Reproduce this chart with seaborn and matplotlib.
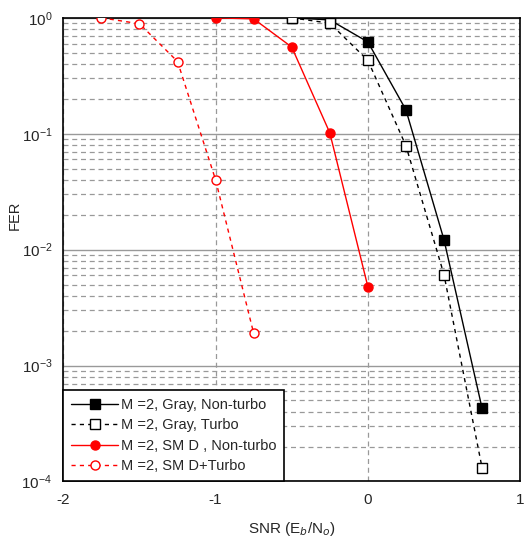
import numpy as np
import pandas as pd
import seaborn as sns
import matplotlib.pyplot as plt
from matplotlib.ticker import LogLocator, NullFormatter

sns.set_style("white")
plt.rcParams['font.family'] = ['Liberation Sans', 'DejaVu Sans']

# SNR points (Eb/No) and FER values
snr_gray = [-0.5, -0.25, 0.0, 0.25, 0.5, 0.75]
fer_gray_nonturbo = [1.0, 0.96, 0.62, 0.161, 0.0122, 4.3e-4]
fer_gray_turbo = [1.0, 0.9, 0.43, 0.079, 0.0061, 1.32e-4]

snr_smd = [-1.0, -0.75, -0.5, -0.25, 0.0]
fer_smd_nonturbo = [1.0, 0.98, 0.56, 0.102, 0.0048]

snr_smd_turbo = [-1.75, -1.5, -1.25, -1.0, -0.75]
fer_smd_turbo = [1.0, 0.89, 0.42, 0.040, 0.0019]

labels = ["M =2, Gray, Non-turbo", "M =2, Gray, Turbo",
          "M =2, SM D , Non-turbo", "M =2, SM D+Turbo"]

fig, ax = plt.subplots(figsize=(5.28, 5.41), dpi=100)

series = [
    (snr_gray, fer_gray_nonturbo, labels[0], "black", "-", "s", "black"),
    (snr_gray, fer_gray_turbo, labels[1], "black", (0, (3, 3)), "s", "white"),
    (snr_smd, fer_smd_nonturbo, labels[2], "red", "-", "o", "red"),
    (snr_smd_turbo, fer_smd_turbo, labels[3], "red", (0, (3, 3)), "o", "white"),
]
for x, y, lab, col, ls, mk, mfc in series:
    df = pd.DataFrame({"snr": x, "fer": y})
    sns.lineplot(data=df, x="snr", y="fer", ax=ax, color=col, linestyle=ls,
                 linewidth=1.0, marker=mk, markersize=6.5, markerfacecolor=mfc,
                 markeredgecolor=col, markeredgewidth=1.0, label=lab,
                 zorder=3)

ax.set_yscale("log")
ax.set_xlim(-2, 1)
ax.set_ylim(1e-4, 1)
ax.set_xticks([-2, -1, 0, 1])
ax.set_xticklabels(["-2", "-1", "0", "1"])
ax.yaxis.set_major_locator(LogLocator(base=10, numticks=10))
ax.yaxis.set_minor_locator(LogLocator(base=10, subs=np.arange(2, 10), numticks=20))
ax.yaxis.set_minor_formatter(NullFormatter())

ax.grid(True, which="major", axis="y", color="#999999", linestyle="-", linewidth=1.0)
ax.grid(True, which="minor", axis="y", color="#999999", linestyle=(0, (4, 3)), linewidth=0.9)
ax.grid(True, which="major", axis="x", color="#999999", linestyle=(0, (4, 3)), linewidth=0.9)
ax.set_axisbelow(True)

for s in ax.spines.values():
    s.set_color("black")
    s.set_linewidth(1.2)
ax.tick_params(axis="both", which="both", length=0, labelsize=11, pad=8)

ax.set_xlabel(r"SNR (E$_b$/N$_o$)", fontsize=11, labelpad=10)
ax.set_ylabel("FER", fontsize=10.5)
ax.yaxis.set_label_coords(-0.092, 0.575)

leg = ax.legend(loc="lower left", fontsize=10.5, frameon=True, fancybox=False,
                edgecolor="black", framealpha=1, borderaxespad=0,
                handlelength=3.2, handletextpad=0.2, labelspacing=0.45,
                borderpad=0.55)
leg.get_frame().set_linewidth(1.2)

fig.subplots_adjust(left=0.12, right=0.985, top=0.967, bottom=0.11)
fig.savefig("out.png", dpi=100)
